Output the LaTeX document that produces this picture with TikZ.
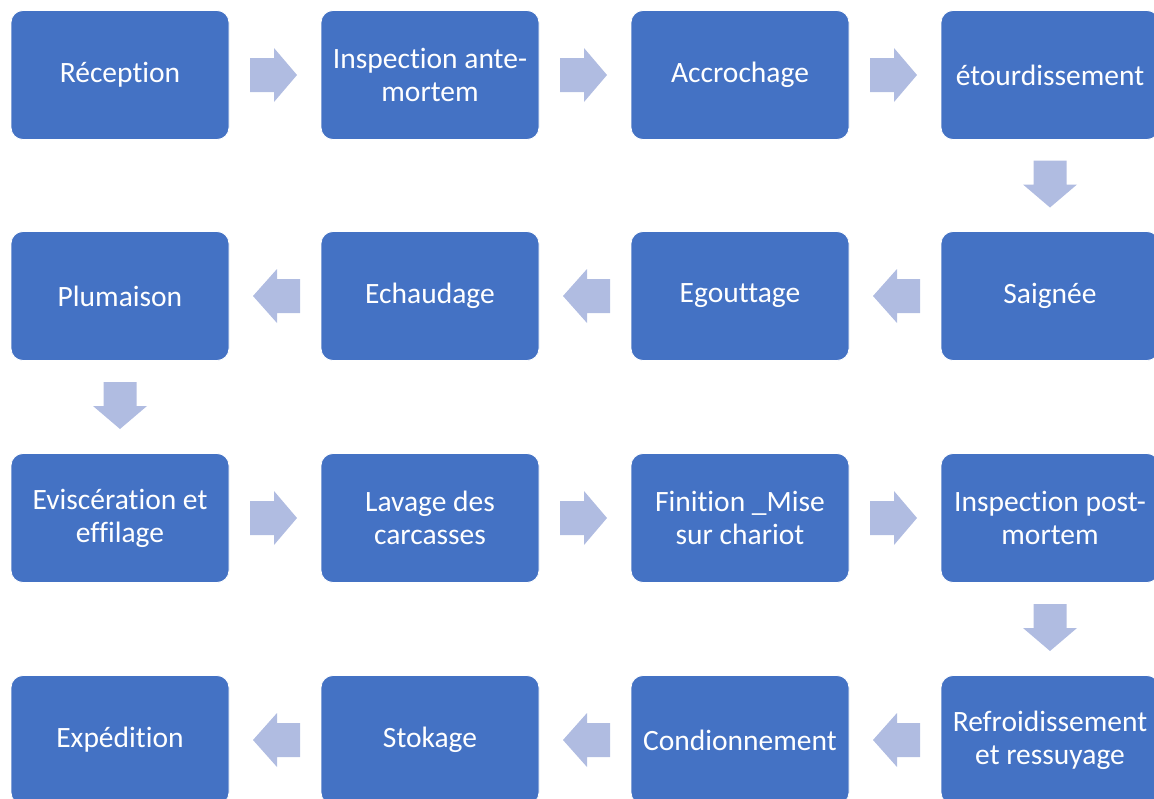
\documentclass[tikz,border=0pt]{standalone}
\usepackage{fontspec}
\setmainfont{Carlito}[Ligatures={NoCommon}]
\usetikzlibrary{calc}
\definecolor{stepblue}{HTML}{4472C4}
\definecolor{flowarrow}{RGB}{176,188,225}
\tikzset{
  stepbox/.style={rectangle, rounded corners=12pt, fill=stepblue, draw=white,
    line width=0.8pt, minimum width=218pt, minimum height=129pt, inner sep=2pt,
    align=center, text=white, font=\fontsize{29.5pt}{33pt}\selectfont},
  flow/.style={fill=flowarrow, draw=none}
}
% block arrows placed halfway between two named steps
\newcommand\flowright[2]{\fill[flow] ($(#1.east)!0.5!(#2.west)$) ++(-25,-17) -- ++(24,0) -- ++(0,-10) -- ++(23,27) -- ++(-23,27) -- ++(0,-10) -- ++(-24,0) -- cycle;}
\newcommand\flowleft[2]{\fill[flow] ($(#1.west)!0.5!(#2.east)$) ++(25,-17) -- ++(-23,0) -- ++(0,-10) -- ++(-24,27) -- ++(24,27) -- ++(0,-10) -- ++(23,0) -- cycle;}
\newcommand\flowdown[2]{\fill[flow] ($(#1.south)!0.5!(#2.north)$) ++(-16.5,-25) -- ++(33,0) -- ++(0,24) -- ++(10.5,0) -- ++(-27,23) -- ++(-27,-23) -- ++(10.5,0) -- cycle;}
\begin{document}
\begin{tikzpicture}[x=1pt, y=-1pt]
  \useasboundingbox (0,0) rectangle (1154,798);
  \clip (0,0) rectangle (1154,798);
  % row 1
  \node[stepbox] (s1) at (120,75) {Réception};
  \node[stepbox] (s2) at (430,75) {Inspection ante-\\mortem};
  \node[stepbox] (s3) at (740,75) {Accrochage};
  \node[stepbox] (s4) at (1050,75) {étourdissement};
  % row 2
  \node[stepbox] (s5) at (1050,296) {Saignée};
  \node[stepbox] (s6) at (740,296) {Egouttage};
  \node[stepbox] (s7) at (430,296) {Echaudage};
  \node[stepbox] (s8) at (120,296) {Plumaison};
  % row 3
  \node[stepbox] (s9) at (120,518) {Eviscération et\\effilage};
  \node[stepbox] (s10) at (430,518) {Lavage des\\carcasses};
  \node[stepbox] (s11) at (740,518) {Finition \_Mise\\sur chariot};
  \node[stepbox] (s12) at (1050,518) {Inspection post-\\mortem};
  % row 4
  \node[stepbox] (s13) at (1050,740) {Refroidissement\\et ressuyage};
  \node[stepbox] (s14) at (740,740) {Condionnement};
  \node[stepbox] (s15) at (430,740) {Stokage};
  \node[stepbox] (s16) at (120,740) {Expédition};
  % connectors
  \flowright{s1}{s2} \flowright{s2}{s3} \flowright{s3}{s4}
  \flowdown{s4}{s5}
  \flowleft{s5}{s6} \flowleft{s6}{s7} \flowleft{s7}{s8}
  \flowdown{s8}{s9}
  \flowright{s9}{s10} \flowright{s10}{s11} \flowright{s11}{s12}
  \flowdown{s12}{s13}
  \flowleft{s13}{s14} \flowleft{s14}{s15} \flowleft{s15}{s16}
\end{tikzpicture}
\end{document}
